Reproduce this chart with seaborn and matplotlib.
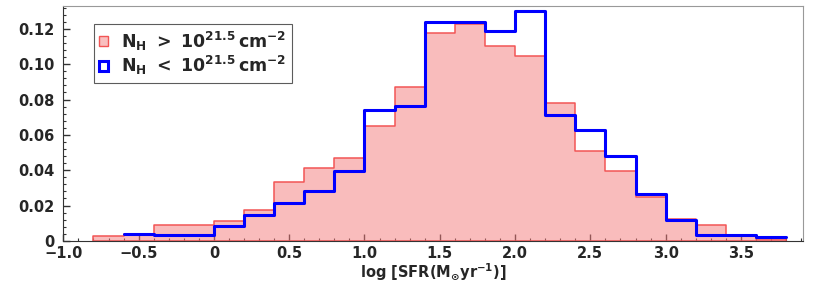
import pandas as pd
import seaborn as sns
from matplotlib import pyplot as plt
from matplotlib.patches import Patch
from matplotlib.ticker import MultipleLocator, FuncFormatter

# bin edges of the log SFR histogram (width 0.2)
edges = [round(-0.8 + 0.2 * i, 2) for i in range(24)]
centers = [round(e + 0.1, 2) for e in edges[:-1]]

# normalised fractions per bin
high_nh = [0.003, 0.004, 0.009, 0.009, 0.0112, 0.0174, 0.0333, 0.0411, 0.0467,
           0.0648, 0.0873, 0.1178, 0.1226, 0.1103, 0.1047, 0.0781, 0.0508,
           0.0398, 0.0248, 0.0121, 0.009, 0.0034, 0.001]
low_nh = [0.0, 0.0037, 0.0034, 0.0034, 0.0084, 0.0149, 0.0215, 0.0284, 0.0396,
          0.0742, 0.0761, 0.1239, 0.1241, 0.119, 0.1303, 0.071, 0.063,
          0.0478, 0.0267, 0.0118, 0.0034, 0.0034, 0.0019]
labels = [r"$\mathbf{N_H\ >\ 10^{21.5}\,cm^{-2}}$",
          r"$\mathbf{N_H\ <\ 10^{21.5}\,cm^{-2}}$"]

df = pd.DataFrame({"logsfr": centers, "high": high_nh, "low": low_nh})
df_low = df.iloc[1:]  # blue histogram starts at -0.6

sns.set_style("white")
plt.rcParams["font.family"] = ["DejaVu Sans"]
plt.rcParams["font.weight"] = "bold"
plt.rcParams["mathtext.fontset"] = "dejavusans"
plt.rcParams["mathtext.default"] = "bf"

fig = plt.figure(figsize=(8.3, 2.84), dpi=100)
ax = fig.add_axes([0.0763, 0.152, 0.8917, 0.827])

sns.histplot(x=df["logsfr"], weights=df["high"], bins=edges, element="step",
             fill=True, color="#f47a7a", alpha=0.5, edgecolor="#f25555",
             linewidth=1.1, ax=ax)
sns.histplot(x=df_low["logsfr"], weights=df_low["low"], bins=edges[1:], element="step",
             fill=False, color="#0000ff", linewidth=2.2, ax=ax)

ax.set_xlim(-1.0, 3.915)
ax.set_ylim(0, 0.133)
ax.set_xlabel(r"log [SFR(M$_{\odot}$yr$^{-1}$)]", fontsize=10.5, fontweight="bold",
              labelpad=0)
ax.set_ylabel("")

ax.xaxis.set_major_locator(MultipleLocator(0.5))
ax.xaxis.set_minor_locator(MultipleLocator(0.1))
ax.yaxis.set_major_locator(MultipleLocator(0.02))
ax.yaxis.set_minor_locator(MultipleLocator(0.004))


def fmt(v, pos):
    if abs(v) < 1e-9:
        return "0"
    return f"{v:.1f}".replace("-", "\u2212")


ax.xaxis.set_major_formatter(FuncFormatter(fmt))
ax.yaxis.set_major_formatter(FuncFormatter(lambda v, p: "0" if abs(v) < 1e-9 else f"{v:.2f}"))
ax.tick_params(which="both", direction="in", labelsize=10.5, bottom=True, left=True,
               top=False, right=False, color="#333333")
ax.tick_params(which="major", length=5, width=1)
ax.tick_params(axis="x", which="major", pad=4)
ax.tick_params(axis="y", which="major", pad=6)
ax.tick_params(which="minor", length=2.5, width=0.8)
for lab in ax.get_xticklabels() + ax.get_yticklabels():
    lab.set_fontweight("bold")

for side in ["left", "bottom"]:
    ax.spines[side].set_color("#333333")
for side in ["top", "right"]:
    ax.spines[side].set_color("#999999")

handles = [Patch(facecolor="#f9bfbf", edgecolor="#f25555", linewidth=1.0),
           Patch(facecolor="none", edgecolor="#0000ff", linewidth=2.2)]
leg = ax.legend(handles, labels, loc="upper left", bbox_to_anchor=(0.041, 0.922),
                fontsize=12.5, fancybox=False, edgecolor="#333333", handlelength=0.5,
                handleheight=0.5, handletextpad=0.8, borderpad=0.3, labelspacing=0.1,
                borderaxespad=0)
leg.get_frame().set_linewidth(0.8)

fig.savefig("out.png", dpi=100)
